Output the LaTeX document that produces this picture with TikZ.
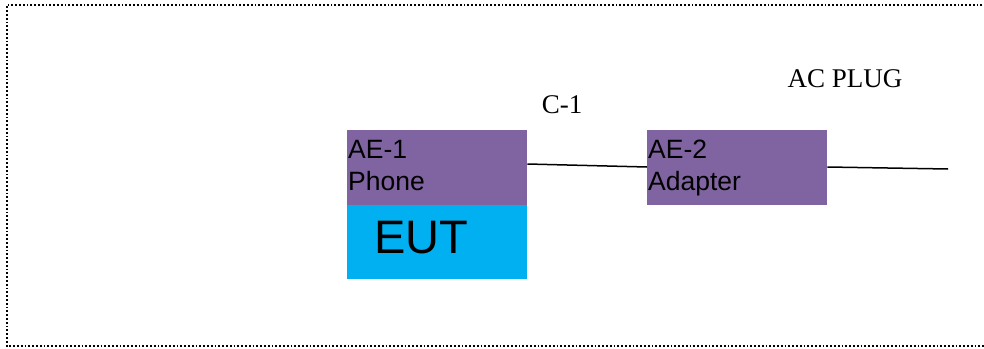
\documentclass[tikz,border=0pt]{standalone}
\usepackage{fontspec}
\setmainfont{Liberation Serif}
\newfontfamily\arialfont{Liberation Sans}
\definecolor{aebox}{RGB}{128,100,162}
\definecolor{eutbox}{RGB}{0,176,240}
\tikzset{
  aeunit/.style={fill=aebox, minimum width=180pt, minimum height=75pt, inner sep=0pt, anchor=north west},
  aetext/.style={anchor=base west, align=left, inner sep=0pt, font=\arialfont\fontsize{26.5}{31.5}\selectfont},
  plaintext/.style={inner sep=0pt, font=\fontsize{27}{30}\selectfont},
  cable/.style={line width=1.5pt}
}
\begin{document}
\begin{tikzpicture}[x=1pt, y=-1pt]
    \useasboundingbox (0, 0) rectangle (984, 348) ;
    \draw[dotted, line width=1.8pt] (986, 5) -- (7, 5) -- (7, 346) -- (986, 346) ;
    \node[aeunit] (phone) at (347, 130) {} ;
    \node[aeunit, fill=eutbox, minimum height=74pt] (eut) at (347, 205) {} ;
    \node[aeunit] (adapter) at (647, 130) {} ;
    \node[aetext] (phonetxt) at (348, 190) {AE-1\\Phone} ;
    \node[aetext] (adaptertxt) at (648, 190) {AE-2\\Adapter} ;
    \node[anchor=west, inner sep=0pt, font=\arialfont\fontsize{47}{50}\selectfont] (euttxt) at (374, 238) {EUT} ;
    \node[plaintext] (cable1) at (562, 105) {C-1} ;
    \node[plaintext] (acplug) at (845, 78.5) {AC PLUG} ;
    \coordinate (plugend) at (948, 169) ;
    \draw[cable] (phone.east |- 0, 164) -- (adapter.west |- 0, 167) ;
    \draw[cable] (adapter.east |- 0, 167) -- (plugend) ;
  \end{tikzpicture}
\end{document}
